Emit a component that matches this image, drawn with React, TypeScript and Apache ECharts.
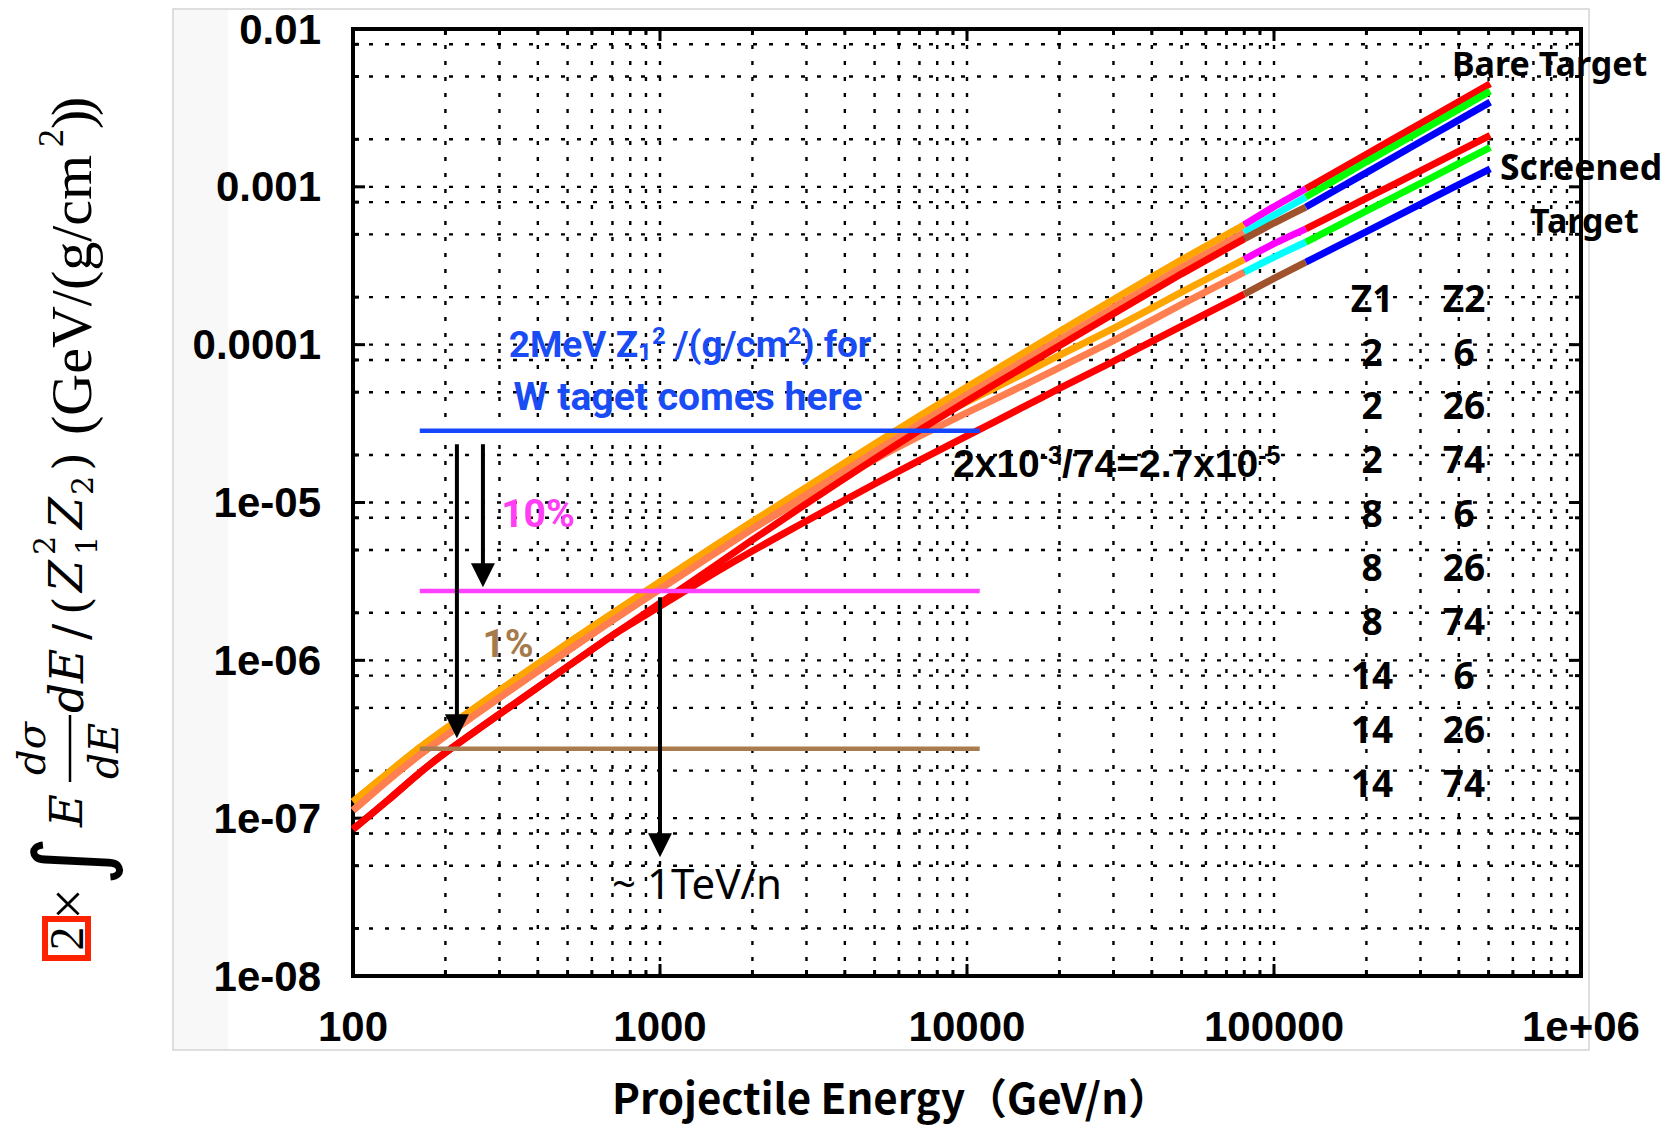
import React, { useEffect, useRef } from 'react';
import * as echarts from 'echarts';

// ---------- axis ticks ----------
const xTickLabels = ['100', '1000', '10000', '100000', '1e+06'];
const yTickLabels = ['1e-08', '1e-07', '1e-06', '1e-05', '0.0001', '0.001', '0.01'];

const xGridValues = [
  200, 300, 400, 500, 600, 700, 800, 900, 1000,
  2000, 3000, 4000, 5000, 6000, 7000, 8000, 9000, 10000,
  20000, 30000, 40000, 50000, 60000, 70000, 80000, 90000, 100000,
  200000, 300000, 400000, 500000, 600000, 700000, 800000, 900000,
];
const yGridValues = [
  2e-8, 5e-8, 8e-8, 1e-7, 2e-7, 5e-7, 8e-7, 1e-6, 2e-6, 5e-6, 8e-6, 1e-5,
  2e-5, 5e-5, 8e-5, 1e-4, 2e-4, 5e-4, 8e-4, 1e-3, 2e-3, 5e-3, 8e-3,
];

// ---------- curves (three energy ranges) ----------
const energySeg1 = [100, 130, 165, 200, 300, 500, 700, 1000, 1500, 2000, 3000, 5000, 7000, 10000, 15000, 20000, 30000, 50000, 80000];
const energySeg2 = [80000, 100000, 127000];
const energySeg3 = [127000, 200000, 300000, 506000];

const bareA1 = [1.27e-7, 1.93e-7, 2.8e-7, 3.68e-7, 6.44e-7, 1.28e-6, 1.98e-6, 3.14e-6, 5.26e-6, 7.55e-6, 1.25e-5, 2.35e-5, 3.53e-5, 5.4e-5, 8.67e-5, 1.21e-4, 1.93e-4, 3.45e-4, 5.75e-4];
const bareA2 = [5.75e-4, 7.48e-4, 9.72e-4];
const bareA3 = [9.72e-4, 1.61e-3, 2.52e-3, 4.5e-3];

const bareB1 = [1.12e-7, 1.74e-7, 2.52e-7, 3.32e-7, 5.81e-7, 1.15e-6, 1.79e-6, 2.83e-6, 4.74e-6, 6.81e-6, 1.12e-5, 2.09e-5, 3.15e-5, 4.81e-5, 7.73e-5, 1.08e-4, 1.72e-4, 3.08e-4, 5.13e-4];
const bareB2 = [5.13e-4, 6.61e-4, 8.61e-4];
const bareB3 = [8.61e-4, 1.44e-3, 2.25e-3, 4.04e-3];

const bareC1 = [8.5e-8, 1.3e-7, 1.94e-7, 2.6e-7, 4.56e-7, 9.14e-7, 1.44e-6, 2.3e-6, 3.94e-6, 5.79e-6, 9.84e-6, 1.89e-5, 2.87e-5, 4.39e-5, 7.05e-5, 9.84e-5, 1.57e-4, 2.81e-4, 4.68e-4];
const bareC2 = [4.68e-4, 5.9e-4, 7.45e-4];
const bareC3 = [7.45e-4, 1.23e-3, 1.93e-3, 3.44e-3];

const screenedA1 = [1.27e-7, 1.93e-7, 2.8e-7, 3.68e-7, 6.44e-7, 1.28e-6, 1.98e-6, 3.14e-6, 5.26e-6, 7.55e-6, 1.22e-5, 2.14e-5, 3.04e-5, 4.34e-5, 6.43e-5, 8.57e-5, 1.27e-4, 2.15e-4, 3.47e-4];
const screenedA2 = [3.47e-4, 4.37e-4, 5.42e-4];
const screenedA3 = [5.42e-4, 8.47e-4, 1.26e-3, 2.12e-3];

const screenedB1 = [1.12e-7, 1.74e-7, 2.52e-7, 3.32e-7, 5.81e-7, 1.15e-6, 1.79e-6, 2.83e-6, 4.74e-6, 6.81e-6, 1.08e-5, 1.87e-5, 2.63e-5, 3.71e-5, 5.43e-5, 7.16e-5, 1.06e-4, 1.8e-4, 2.88e-4];
const screenedB2 = [2.88e-4, 3.59e-4, 4.47e-4];
const screenedB3 = [4.47e-4, 7.03e-4, 1.05e-3, 1.78e-3];

const screenedC1 = [8.5e-8, 1.3e-7, 1.94e-7, 2.6e-7, 4.56e-7, 9.14e-7, 1.44e-6, 2.2e-6, 3.56e-6, 4.93e-6, 7.64e-6, 1.31e-5, 1.85e-5, 2.64e-5, 3.96e-5, 5.28e-5, 7.85e-5, 1.31e-4, 2.09e-4];
const screenedC2 = [2.09e-4, 2.63e-4, 3.33e-4];
const screenedC3 = [3.33e-4, 5.21e-4, 7.78e-4, 1.3e-3];

const seg1Colors = ['#ffa500', '#ff7f50', '#ff0000'];
const seg2Colors = ['#ff00ff', '#00ffff', '#a0522d'];
const seg3Colors = ['#ff0000', '#00ff00', '#0000ff'];

// ---------- annotations ----------
const guideEnergy = [165, 11000];
const guideLevels = [2.85e-5, 2.75e-6, 2.75e-7];
const guideColors = ['#1446ff', '#ff40ff', '#a87c4f'];

const arrowEnergy = [218, 265, 1000];
const arrowFrom = [2.34e-5, 2.34e-5, 2.51e-6];
const arrowTo = [3.21e-7, 2.9e-6, 5.66e-8];

const tableZ1 = ['2', '2', '2', '8', '8', '8', '14', '14', '14'];
const tableZ2 = ['6', '26', '74', '6', '26', '74', '6', '26', '74'];

const X_MIN = 100;
const X_MAX = 1e6;
const Y_MIN = 1e-8;
const Y_MAX = 1e-2;

const isDecade = (v: number) => Math.abs(Math.log10(v) - Math.round(Math.log10(v))) < 1e-6;

function txt(text: string, x: number, y: number, size: number, o: any = {}) {
  const align = o.align || 'center';
  const style: any = {
    text,
    fontSize: size,
    fontFamily: o.family || 'Liberation Sans',
    fontWeight: o.weight || 'normal',
    fontStyle: o.italic ? 'italic' : 'normal',
    fill: o.color || '#000',
    align,
    textAlign: align,
    verticalAlign: 'middle',
    textVerticalAlign: 'middle',
  };
  if (o.rich) style.rich = o.rich;
  if (o.lineHeight) style.lineHeight = o.lineHeight;
  return { type: 'text', x, y, z: 100, silent: true, style };
}

// text placed by its baseline inside the rotated title group
function bt(text: string, lx: number, base: number, size: number, family: string, italic = false, align = 'left') {
  return txt(text, lx, base - 0.34 * size, size, { family, italic, align });
}

const SERIF = 'DejaVu Serif';
const TIMES = 'Liberation Serif';

function buildTitle() {
  return {
    type: 'group',
    x: 84,
    y: 965,
    rotation: Math.PI / 2,
    z: 100,
    silent: true,
    children: [
      { type: 'rect', z: 100, shape: { x: 7, y: -39, width: 39, height: 43 }, style: { fill: '#fff', stroke: '#ff2200', lineWidth: 6 } },
      txt('2', 26.5, -17.5, 48, { family: TIMES }),
      txt('×', 61, -16, 56, { family: TIMES }),
      txt('∫', 104, -14, 96, { family: 'DejaVu Sans' }),
      bt('E', 138, -2, 45, SERIF, true),
      bt('dσ', 216.5, -39, 40, SERIF, true, 'center'),
      { type: 'line', z: 100, shape: { x1: 183, y1: -14, x2: 250, y2: -14 }, style: { stroke: '#000', lineWidth: 2.5 } },
      bt('dE', 214, 34, 41, SERIF, true, 'center'),
      bt('dE', 252, -2, 47, SERIF, true),
      bt('/', 325, 3, 48, SERIF),
      bt('(', 350, 3, 48, SERIF),
      bt('Z', 373, -2, 46, SERIF, true),
      bt('2', 410, -29, 30, SERIF),
      bt('1', 410, 13, 30, SERIF),
      bt('Z', 436, -2, 46, SERIF, true),
      bt('2', 470, 9, 30, SERIF),
      bt(')', 494, 3, 48, SERIF),
      bt('(GeV/(g/cm', 530, 7, 58, TIMES),
      bt('2', 818, -21, 36, TIMES),
      bt(')', 836, 7, 58, TIMES),
      bt(')', 849, 7, 58, TIMES),
    ],
  };
}

function buildGraphics() {
  const g: any[] = [];
  g.push({ type: 'rect', z: 0, silent: true, shape: { x: 174, y: 10, width: 54, height: 1039 }, style: { fill: '#f8f8f8' } });
  g.push({ type: 'rect', z: 0, silent: true, shape: { x: 173, y: 9, width: 1416, height: 1041 }, style: { fill: 'none', stroke: '#d4d4d4', lineWidth: 1.5 } });
  g.push(buildTitle());

  g.push(txt('Projectile Energy（GeV/n）', 891, 1095, 42, { family: 'Noto Sans CJK JP', weight: 'bold', lineHeight: 46 }));

  const blue = '#1a4cf5';
  const blueRich = {
    b: { fontSize: 37, fontWeight: 'bold', fontFamily: 'Roboto', color: blue, lineHeight: 40 },
    sub: { fontSize: 24, fontWeight: 'bold', fontFamily: 'Roboto', color: blue, lineHeight: 26, verticalAlign: 'bottom' },
    sup: { fontSize: 24, fontWeight: 'bold', fontFamily: 'Roboto', color: blue, lineHeight: 29, verticalAlign: 'top' },
  };
  g.push(txt('{b|2MeV Z}{sub|1}{sup|2}{b| /(g/cm}{sup|2}{b|) for}', 690, 344, 37, { rich: blueRich, color: blue }));
  g.push(txt('W taget comes here', 688, 397, 39, { family: 'Roboto', weight: 'bold', color: blue }));

  g.push(txt('10%', 538, 514, 39, { family: 'Roboto', weight: 'bold', color: '#ff3ef5' }));
  g.push(txt('1%', 508, 644, 39, { family: 'Roboto', weight: 'bold', color: '#a67b4c' }));
  g.push(txt('~ 1TeV/n', 697, 882, 42, { family: 'Noto Sans' }));

  const eqRich = {
    b: { fontSize: 39, fontWeight: 'bold', fontFamily: 'Liberation Sans', color: '#000', lineHeight: 42 },
    sup: { fontSize: 25, fontWeight: 'bold', fontFamily: 'Liberation Sans', color: '#000', lineHeight: 30, verticalAlign: 'top' },
  };
  g.push(txt('{b|2x10}{sup|-3}{b|/74=2.7x10}{sup|-5}', 953, 463, 39, { rich: eqRich, align: 'left' }));

  g.push(txt('Bare Target', 1452, 63, 34, { family: 'Noto Sans', weight: 'bold', align: 'left' }));
  g.push(txt('Screened', 1500, 166, 35.5, { family: 'Noto Sans', weight: 'bold', align: 'left' }));
  g.push(txt('Target', 1530, 220, 34, { family: 'Noto Sans', weight: 'bold', align: 'left' }));

  g.push(txt('Z1', 1372, 297, 37, { family: 'Noto Sans', weight: 'bold' }));
  g.push(txt('Z2', 1464, 297, 37, { family: 'Noto Sans', weight: 'bold' }));
  tableZ1.forEach((z, i) => {
    const y = 351 + 53.9 * i;
    g.push(txt(z, 1372, y, 37, { family: 'Noto Sans', weight: 'bold' }));
    g.push(txt(tableZ2[i], 1464, y, 37, { family: 'Noto Sans', weight: 'bold' }));
  });
  return g;
}

function buildSeries() {
  const series: any[] = [];
  const dotted = { stroke: '#000', lineWidth: 2.4, lineDash: [4, 12] };
  series.push({
    type: 'custom',
    z: 1,
    silent: true,
    data: xGridValues.map((v) => [v, Y_MIN]),
    encode: { x: 0, y: 1 },
    renderItem: (params: any, api: any) => {
      const v = api.value(0);
      const x = api.coord([v, Y_MIN])[0];
      const cs = params.coordSys;
      const len = isDecade(v) ? 12 : 6;
      return {
        type: 'group',
        children: [
          { type: 'line', shape: { x1: x, y1: cs.y, x2: x, y2: cs.y + cs.height }, style: dotted },
          { type: 'line', shape: { x1: x, y1: cs.y + cs.height, x2: x, y2: cs.y + cs.height - len }, style: { stroke: '#000', lineWidth: 3 } },
          { type: 'line', shape: { x1: x, y1: cs.y, x2: x, y2: cs.y + len }, style: { stroke: '#000', lineWidth: 3 } },
        ],
      };
    },
  });
  series.push({
    type: 'custom',
    z: 1,
    silent: true,
    data: yGridValues.map((v) => [X_MIN, v]),
    encode: { x: 0, y: 1 },
    renderItem: (params: any, api: any) => {
      const v = api.value(1);
      const y = api.coord([X_MIN, v])[1];
      const cs = params.coordSys;
      const len = isDecade(v) ? 12 : 6;
      return {
        type: 'group',
        children: [
          { type: 'line', shape: { x1: cs.x, y1: y, x2: cs.x + cs.width, y2: y }, style: dotted },
          { type: 'line', shape: { x1: cs.x, y1: y, x2: cs.x + len, y2: y }, style: { stroke: '#000', lineWidth: 3 } },
          { type: 'line', shape: { x1: cs.x + cs.width, y1: y, x2: cs.x + cs.width - len, y2: y }, style: { stroke: '#000', lineWidth: 3 } },
        ],
      };
    },
  });

  const curves = [
    { s: [screenedA1, screenedA2, screenedA3], k: 0 },
    { s: [screenedB1, screenedB2, screenedB3], k: 1 },
    { s: [screenedC1, screenedC2, screenedC3], k: 2 },
    { s: [bareA1, bareA2, bareA3], k: 0 },
    { s: [bareB1, bareB2, bareB3], k: 1 },
    { s: [bareC1, bareC2, bareC3], k: 2 },
  ];
  const energies = [energySeg1, energySeg2, energySeg3];
  const colors = [seg1Colors, seg2Colors, seg3Colors];
  curves.forEach((c) => {
    c.s.forEach((vals, si) => {
      series.push({
        type: 'line',
        z: 3,
        silent: true,
        smooth: 0.2,
        showSymbol: false,
        symbol: 'none',
        data: energies[si].map((e, j) => [e, vals[j]]),
        lineStyle: { width: 7, color: colors[si][c.k], cap: 'butt' },
      });
    });
  });

  guideLevels.forEach((lv, i) => {
    series.push({
      type: 'line',
      z: 4,
      silent: true,
      showSymbol: false,
      symbol: 'none',
      data: guideEnergy.map((e) => [e, lv]),
      lineStyle: { width: 4.5, color: guideColors[i] },
    });
  });

  series.push({
    type: 'custom',
    z: 5,
    silent: true,
    data: arrowEnergy.map((e, i) => [e, arrowFrom[i], arrowTo[i]]),
    encode: { x: 0, y: [1, 2] },
    renderItem: (params: any, api: any) => {
      const e = api.value(0);
      const p1 = api.coord([e, api.value(1)]);
      const p2 = api.coord([e, api.value(2)]);
      const head = 24;
      const hw = 12;
      return {
        type: 'group',
        children: [
          { type: 'line', shape: { x1: p1[0], y1: p1[1], x2: p2[0], y2: p2[1] - head + 2 }, style: { stroke: '#000', lineWidth: 4 } },
          { type: 'polygon', shape: { points: [[p2[0] - hw, p2[1] - head], [p2[0] + hw, p2[1] - head], [p2[0], p2[1]]] }, style: { fill: '#000' } },
        ],
      };
    },
  });
  return series;
}

export default function App() {
  const ref = useRef<HTMLDivElement>(null);
  useEffect(() => {
    if (!ref.current) return;
    const chart = echarts.init(ref.current, null, { renderer: 'svg' });
    const labelStyle = { fontFamily: 'Liberation Sans', fontWeight: 'bold' as const, fontSize: 42, color: '#000' };
    chart.setOption({
      animation: false,
      backgroundColor: '#fff',
      grid: { left: 353, top: 29, right: 96, bottom: 149, show: true, borderColor: '#000', borderWidth: 4, backgroundColor: '#fff', containLabel: false },
      xAxis: {
        type: 'log',
        logBase: 10,
        min: X_MIN,
        max: X_MAX,
        splitNumber: 4,
        axisLine: { show: false },
        axisTick: { show: false },
        splitLine: { show: false },
        axisLabel: {
          ...labelStyle,
          margin: 29,
          interval: 0,
          formatter: (v: number) => xTickLabels[Math.round(Math.log10(v)) - 2] ?? '',
        },
      },
      yAxis: {
        type: 'log',
        logBase: 10,
        min: Y_MIN,
        max: Y_MAX,
        splitNumber: 6,
        axisLine: { show: false },
        axisTick: { show: false },
        splitLine: { show: false },
        axisLabel: {
          ...labelStyle,
          margin: 32,
          interval: 0,
          formatter: (v: number) => yTickLabels[Math.round(Math.log10(v)) + 8] ?? '',
        },
      },
      series: buildSeries(),
      graphic: { elements: buildGraphics() },
    });
    return () => chart.dispose();
  }, []);
  return <div ref={ref} style={{ position: 'absolute', left: 0, top: 0, width: 1677, height: 1125 }} />;
}
